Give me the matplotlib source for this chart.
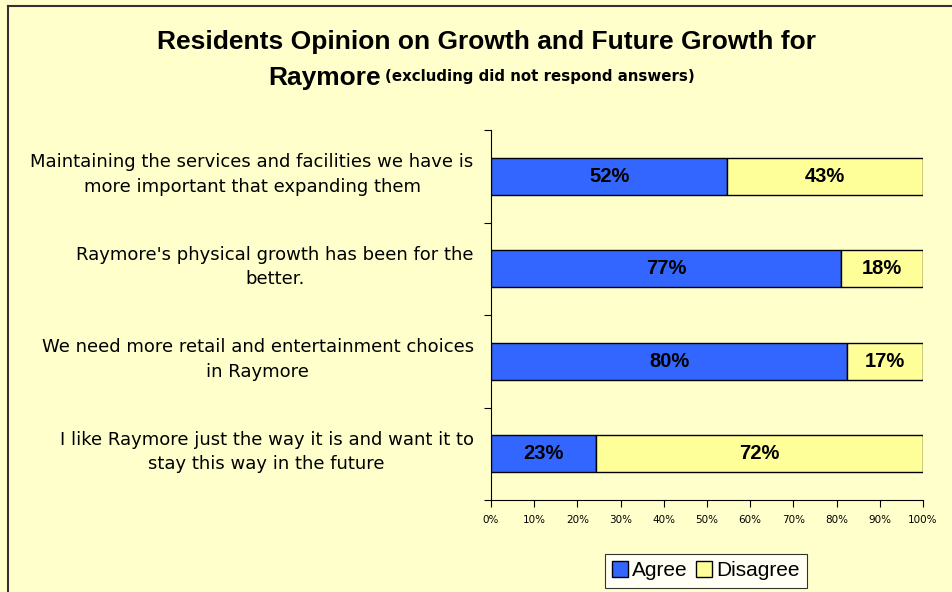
import matplotlib
matplotlib.use("Agg")
import matplotlib.pyplot as plt
from matplotlib.lines import Line2D
import numpy as np

plt.rcParams['font.family'] = ['Liberation Sans', 'DejaVu Sans']

statements = [
    "Maintaining the services and facilities we have is\nmore important that expanding them",
    "Raymore's physical growth has been for the\nbetter.",
    "We need more retail and entertainment choices\nin Raymore",
    "I like Raymore just the way it is and want it to\nstay this way in the future",
]
agree = [52, 77, 80, 23]
disagree = [43, 18, 17, 72]
series_names = ["Agree", "Disagree"]
x_ticks = [0, 10, 20, 30, 40, 50, 60, 70, 80, 90, 100]

BG = "#FFFFCC"
BLUE = "#3366FF"
YELLOW = "#FFFF99"

fig = plt.figure(figsize=(9.53, 5.92), dpi=100, facecolor=BG)
ax = fig.add_axes([491 / 953, 1 - 500 / 592, (923 - 491) / 953, (500 - 130) / 592])
ax.set_facecolor(BG)

agree_a = np.array(agree, dtype=float)
dis_a = np.array(disagree, dtype=float)
total = agree_a + dis_a
agree_pct = agree_a / total * 100
dis_pct = dis_a / total * 100

y = np.arange(len(statements))[::-1].astype(float)
h = 0.4
ax.barh(y, agree_pct, height=h, color=BLUE, edgecolor="black", linewidth=1.0, zorder=3)
ax.barh(y, dis_pct, left=agree_pct, height=h, color=YELLOW, edgecolor="black", linewidth=1.0, zorder=3)

for yi, a, d, ap, dp in zip(y, agree, disagree, agree_pct, dis_pct):
    ax.text(ap / 2, yi, f"{a}%", ha="center", va="center", fontsize=14.5, fontweight="bold", zorder=4)
    ax.text(ap + dp / 2, yi, f"{d}%", ha="center", va="center", fontsize=14.5, fontweight="bold", zorder=4)

ax.set_xlim(0, 100)
ax.set_ylim(-0.5, len(statements) - 0.5)
ax.set_xticks(x_ticks)
ax.set_xticklabels([f"{t}%" for t in x_ticks], fontsize=7.5, family="DejaVu Sans")
ax.set_yticks(np.arange(-0.5, len(statements), 1.0))
ax.set_yticklabels([])
ax.tick_params(axis="y", direction="out", length=5, width=0.8)
ax.tick_params(axis="x", direction="out", length=5, width=0.8, pad=6)
for side in ("top", "right"):
    ax.spines[side].set_visible(False)
ax.spines["left"].set_linewidth(0.8)
ax.spines["bottom"].set_linewidth(0.8)

for yi, s in zip(y, statements):
    ax.text(-0.04, yi + 0.02, s, transform=ax.get_yaxis_transform(), ha="right", va="center",
            multialignment="center", fontsize=13, linespacing=1.45, family="DejaVu Sans")

fig.text(487 / 953, 1 - 42 / 592, "Residents Opinion on Growth and Future Growth for",
         ha="center", va="center", fontsize=19, fontweight="bold")
fig.text(381 / 953, 1 - 78 / 592, "Raymore", ha="right", va="center", fontsize=19, fontweight="bold")
fig.text(385 / 953, 1 - 77 / 592, "(excluding did not respond answers)", ha="left", va="center",
         fontsize=10.8, fontweight="bold", family="DejaVu Sans")

handles = [Line2D([], [], marker="s", linestyle="none", markersize=12, markerfacecolor=BLUE,
                  markeredgecolor="black", markeredgewidth=1.0),
           Line2D([], [], marker="s", linestyle="none", markersize=12, markerfacecolor=YELLOW,
                  markeredgecolor="black", markeredgewidth=1.0)]
leg = fig.legend(handles, series_names, loc="center", bbox_to_anchor=(706 / 953, 1 - 571 / 592),
                 ncol=2, fontsize=15, frameon=True, fancybox=False, handlelength=0.7,
                 handletextpad=0.25, columnspacing=0.4, borderpad=0.35)
leg.get_frame().set_edgecolor("black")
leg.get_frame().set_linewidth(0.8)
leg.get_frame().set_facecolor("white")

# chart area border (top and left edges)
fig.add_artist(Line2D([8 / 953, 8 / 953], [0, 1 - 6 / 592], color="#333333", linewidth=1.5,
                      transform=fig.transFigure))
fig.add_artist(Line2D([8 / 953, 1], [1 - 6 / 592, 1 - 6 / 592], color="#333333", linewidth=1.5,
                      transform=fig.transFigure))

fig.savefig("out.png", dpi=100, facecolor=BG)
